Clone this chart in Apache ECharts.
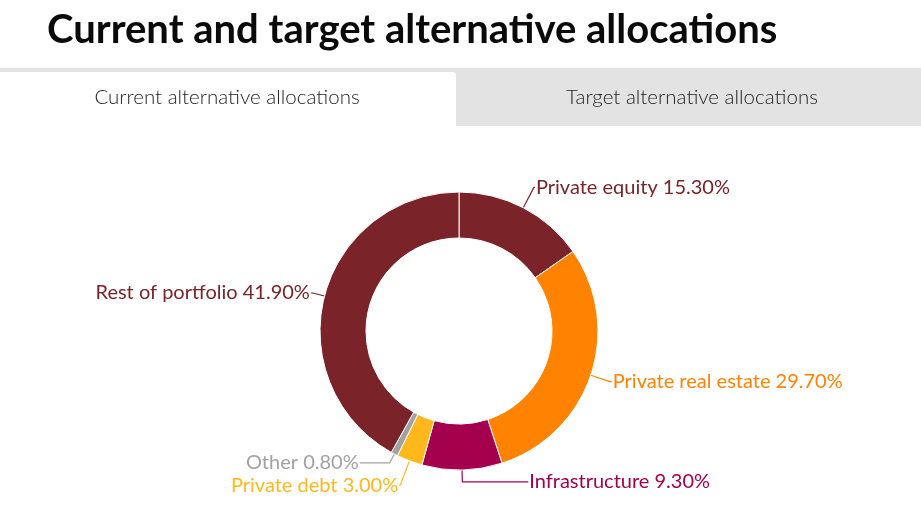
<!DOCTYPE html>
<html>
<head>
<meta charset="utf-8">
<script src="https://cdn.jsdelivr.net/npm/echarts@6/dist/echarts.min.js"></script>
<style>
  html, body { margin: 0; padding: 0; background: #fff; }
  #main { width: 921px; height: 523px; }
</style>
</head>
<body>
<div id="main"></div>
<script type="text/javascript">
// data, clockwise from 12 o'clock
var names = ['Private equity', 'Private real estate', 'Infrastructure', 'Private debt', 'Other', 'Rest of portfolio'];
var values = [15.3, 29.7, 9.3, 3.0, 0.8, 41.9];
var colors = ['#7a2328', '#ff8200', '#a5004d', '#ffb81c', '#a2a2a2', '#7a2328'];
var tabs = ['Current alternative allocations', 'Target alternative allocations'];

// label line lengths per slice [length, length2]
var lineLen = [[23, 1], [20, 2], [12, 66], [26, 1], [10, 30], [12, 2]];

var chart = echarts.init(document.getElementById('main'));

var pieData = names.map(function (n, i) {
	return {
		name: n,
		value: values[i],
		itemStyle: { color: colors[i] },
		label: { color: colors[i] },
		labelLine: { length: lineLen[i][0], length2: lineLen[i][1], lineStyle: { color: colors[i], width: 1.2 } }
	};
});

var option = {
	animation: false,
	graphic: [
		{ type: 'text', left: 47, top: 10, style: { text: 'Current and target alternative allocations', font: 'bold 40px Lato', fill: '#0a0a0a' } },
		{ type: 'rect', shape: { x: 0, y: 68, width: 921, height: 58 }, style: { fill: '#e3e3e3' } },
		{ type: 'rect', shape: { x: 0, y: 72, width: 456, height: 54, r: [0, 4, 0, 0] }, style: { fill: '#fff' } },
		{ type: 'text', x: 227, y: 97, style: { text: tabs[0], font: '300 20.5px Lato', fill: '#222', align: 'center', verticalAlign: 'middle' } },
		{ type: 'text', x: 692, y: 97, style: { text: tabs[1], font: '300 20.5px Lato', fill: '#222', align: 'center', verticalAlign: 'middle' } }
	],
	series: [{
		type: 'pie',
		center: [459, 331],
		radius: [93, 139],
		startAngle: 90,
		clockwise: true,
		avoidLabelOverlap: false,
		itemStyle: { borderColor: '#fff', borderWidth: 1 },
		label: {
			show: true,
			fontFamily: 'Lato',
			fontSize: 20,
			distanceToLabelLine: 1,
			formatter: function (p) { return p.name + ' ' + p.value.toFixed(2) + '%'; }
		},
		emphasis: { disabled: true },
		data: pieData
	}]
};

chart.setOption(option);
</script>
</body>
</html>
